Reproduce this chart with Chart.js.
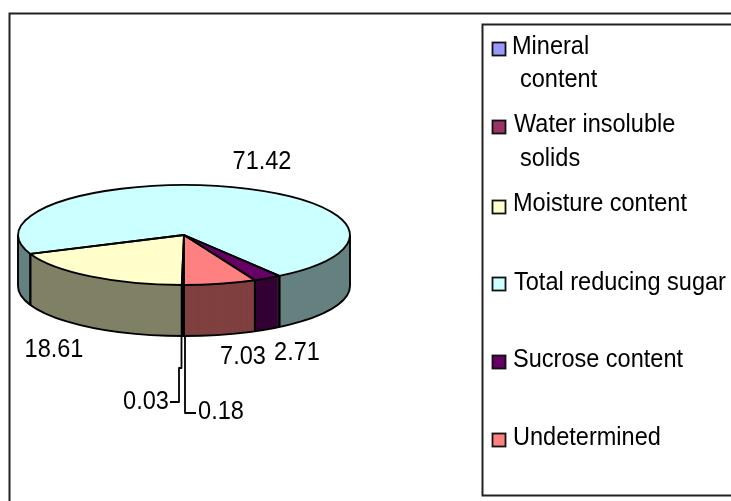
<!DOCTYPE html>
<html>
<head>
<meta charset="utf-8">
<style>html,body{margin:0;padding:0;background:#fff;overflow:hidden}canvas{display:block}</style>
<script src="https://cdn.jsdelivr.net/npm/chart.js@4"></script>
</head>
<body>
<canvas id="c" width="731" height="501"></canvas>
<script>
const categories = [['Mineral','content'],['Water insoluble','solids'],['Moisture content'],['Total reducing sugar'],['Sucrose content'],['Undetermined']];
const values = [0.03,0.18,18.61,71.42,2.71,7.03];
const sliceColors = ['#9999FF','#993366','#FFFFCC','#CCFFFF','#660066','#FF8080'];
const wallColors = ['#4D4D80','#4D1A33','#808066','#668080','#330033','#804040'];

// layout only
const TILT = 50/166, DEPTH = 51;
const FONT = '26px "Liberation Sans", Arial, sans-serif';
const SQUEEZE = 0.905;
const legendRows = [
  {sy:49, lines:[[512,47],[520,80]]},
  {sy:127,lines:[[514,125],[520,159]]},
  {sy:207,lines:[[513,204]]},
  {sy:284,lines:[[514,283]]},
  {sy:362,lines:[[513,360]]},
  {sy:440,lines:[[513,438]]}
];
const valuePos = [[146,402],[221,412],[54,350],[262,162],[297,353],[243,357]];

function tilt(ctx,cx,cy){ctx.translate(cx,cy);ctx.scale(1,TILT);ctx.translate(-cx,-cy);}
function putText(ctx,t,x,y){ctx.save();ctx.translate(x,y);ctx.scale(SQUEEZE,1);ctx.fillText(t,0,0);ctx.restore();}

const pie3d = {
  id:'pie3d',
  beforeDraw(chart){
    const ctx=chart.ctx;
    ctx.save();
    ctx.strokeStyle='#222';ctx.lineWidth=2;
    ctx.strokeRect(9.5,13.5,800,600);
    ctx.strokeRect(482.5,24.5,400,471);
    ctx.restore();
  },
  beforeDatasetsDraw(chart){
    const ctx=chart.ctx, els=chart.getDatasetMeta(0).data;
    const c=els[0];
    for(let d=DEPTH;d>=1;d--){
      ctx.save();
      ctx.translate(0,d);
      tilt(ctx,c.x,c.y);
      els.forEach((el,i)=>{
        const saved=el.options;
        const o=Object.create(saved);
        o.backgroundColor=wallColors[i];o.borderWidth=0;
        el.options=o;
        el.draw(ctx);
        el.options=saved;
      });
      ctx.restore();
    }
    ctx.save();
    tilt(ctx,c.x,c.y);
  },
  afterDatasetsDraw(chart){
    const ctx=chart.ctx, els=chart.getDatasetMeta(0).data;
    ctx.restore();
    const c=els[0], R=c.outerRadius;
    ctx.save();
    ctx.strokeStyle='#000';ctx.lineWidth=1.9;ctx.lineJoin='round';
    ctx.beginPath();
    ctx.save();ctx.translate(0,DEPTH);tilt(ctx,c.x,c.y);ctx.arc(c.x,c.y,R,0,Math.PI);ctx.restore();
    ctx.stroke();
    const vertical=a=>{
      const px=c.x+R*Math.cos(a),py=c.y+R*TILT*Math.sin(a);
      ctx.beginPath();ctx.moveTo(px,py);ctx.lineTo(px,py+DEPTH);ctx.stroke();
    };
    vertical(0);vertical(Math.PI);
    els.forEach(el=>{
      if(Math.sin(el.startAngle)>=0)vertical(el.startAngle);
      if(Math.sin(el.endAngle)>=0)vertical(el.endAngle);
    });
    els.forEach(el=>{
      ctx.beginPath();
      ctx.save();tilt(ctx,c.x,c.y);
      ctx.moveTo(c.x,c.y);ctx.arc(c.x,c.y,R,el.startAngle,el.endAngle);ctx.closePath();
      ctx.restore();
      ctx.stroke();
    });
    const bottom=c.y+R*TILT+DEPTH;
    ctx.lineWidth=1.8;
    ctx.beginPath();
    ctx.moveTo(c.x-2.5,bottom);ctx.lineTo(c.x-2.5,368);ctx.lineTo(c.x-5,368);ctx.lineTo(c.x-5,402);ctx.lineTo(170,402);
    ctx.moveTo(c.x+1,bottom);ctx.lineTo(c.x+1,413);ctx.lineTo(196,413);
    ctx.stroke();
    ctx.restore();
  },
  afterDraw(chart){
    const ctx=chart.ctx;
    ctx.save();
    ctx.font=FONT;ctx.fillStyle='#000';ctx.textBaseline='middle';
    ctx.textAlign='center';
    values.forEach((v,i)=>{putText(ctx,v.toFixed(2),valuePos[i][0],valuePos[i][1]);});
    ctx.textAlign='left';
    categories.forEach((lines,i)=>{
      const r=legendRows[i];
      ctx.fillStyle=sliceColors[i];ctx.fillRect(492.5,r.sy-6.5,13,13);
      ctx.strokeStyle='#111';ctx.lineWidth=1.8;ctx.strokeRect(492.5,r.sy-6.5,13,13);
      ctx.fillStyle='#000';
      lines.forEach((t,j)=>putText(ctx,t,r.lines[j][0],r.lines[j][1]));
    });
    ctx.restore();
  }
};

new Chart(document.getElementById('c'),{
  type:'pie',
  data:{labels:categories,datasets:[{data:values,backgroundColor:sliceColors,borderWidth:0,clip:false}]},
  options:{
    responsive:false,animation:false,rotation:180,
    layout:{padding:{left:18,right:381,top:69,bottom:100}},
    plugins:{legend:{display:false},tooltip:{enabled:false}}
  },
  plugins:[pie3d]
});
</script>
</body>
</html>
